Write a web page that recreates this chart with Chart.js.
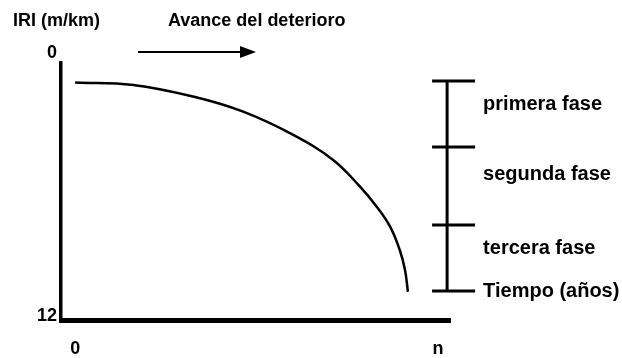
<!DOCTYPE html>
<html>
<head>
<meta charset="utf-8">
<script src="https://cdn.jsdelivr.net/npm/chart.js@4"></script>
<style>
html, body { margin: 0; padding: 0; background: #fff; }
</style>
</head>
<body>
<canvas id="chart" width="622" height="358"></canvas>
<script>
// deterioration curve: time (n = 10) against IRI (m/km)
const years = [0, 1.6, 3.25, 4.63, 6.01, 7.11, 7.85, 8.31, 8.68, 8.95, 9.09, 9.17];
const iri = [1.35, 1.46, 1.99, 2.68, 3.74, 4.88, 6.1, 7.01, 7.92, 9.01, 9.9, 10.89];
const xTicks = [0, 10];
const xTickLabels = ["0", "n"];
const yTicks = [0, 12];
// phase limits on the IRI scale
const phaseLimits = [1.28, 4.29, 7.85, 10.86];
const phaseLabels = ["primera fase", "segunda fase", "tercera fase"];
const timeLabel = "Tiempo (años)";
const yTitle = "IRI (m/km)";
const arrowLabel = "Avance del deterioro";

const FONT = "'Liberation Sans', Arial, sans-serif";

const notes = {
    id: "notes",
    afterDraw(chart) {
        const ctx = chart.ctx;
        const xs = chart.scales.x;
        const ys = chart.scales.y;
        ctx.save();
        ctx.fillStyle = "#000";
        ctx.strokeStyle = "#000";
        ctx.textBaseline = "middle";
        ctx.textAlign = "left";
        ctx.font = "bold 18px " + FONT;
        ctx.fillText(yTitle, 13, 21);
        ctx.fillText(arrowLabel, 168, 21);

        // arrow
        ctx.lineWidth = 2;
        ctx.beginPath();
        ctx.moveTo(138, 52);
        ctx.lineTo(242, 52);
        ctx.stroke();
        ctx.beginPath();
        ctx.moveTo(256, 52);
        ctx.lineTo(240, 46);
        ctx.lineTo(240, 58);
        ctx.closePath();
        ctx.fill();

        // phase bar
        const bx = xs.getPixelForValue(10.25);
        const py = phaseLimits.map(v => ys.getPixelForValue(v));
        ctx.lineWidth = 3;
        ctx.beginPath();
        ctx.moveTo(bx, py[0]);
        ctx.lineTo(bx, py[py.length - 1]);
        py.forEach(p => {
            ctx.moveTo(bx - 15, p);
            ctx.lineTo(bx + 28, p);
        });
        ctx.stroke();

        ctx.font = "bold 20px " + FONT;
        phaseLabels.forEach((t, i) => {
            ctx.fillText(t, bx + 36, py[i] + 0.35 * (py[i + 1] - py[i]));
        });
        ctx.fillText(timeLabel, bx + 36, py[py.length - 1]);
        ctx.restore();
    }
};

new Chart(document.getElementById("chart"), {
    type: "scatter",
    data: {
        datasets: [{
            data: years.map((x, i) => ({ x: x, y: iri[i] })),
            showLine: true,
            borderColor: "#000",
            borderWidth: 2.5,
            pointRadius: 0,
            tension: 0.4,
            fill: false
        }]
    },
    options: {
        responsive: false,
        animation: false,
        layout: { padding: { top: 63, right: 172, left: 0, bottom: 0 } },
        plugins: {
            legend: { display: false },
            tooltip: { enabled: false }
        },
        scales: {
            x: {
                type: "linear",
                min: -0.39,
                max: 10.33,
                grid: { display: false, drawTicks: false },
                border: { display: true, color: "#000", width: 5 },
                afterBuildTicks: s => { s.ticks = xTicks.map(v => ({ value: v })); },
                afterFit: s => { s.height = 38; },
                ticks: {
                    color: "#000",
                    font: { size: 18, weight: "bold", family: FONT },
                    padding: 18,
                    maxRotation: 0,
                    autoSkip: false,
                    callback: (v, i) => xTickLabels[i]
                }
            },
            y: {
                type: "linear",
                reverse: true,
                min: 0.46,
                max: 12.18,
                grid: { display: false, drawTicks: false },
                border: { display: true, color: "#000", width: 3.5 },
                afterBuildTicks: s => { s.ticks = yTicks.map(v => ({ value: v })); },
                afterFit: s => { s.width = 61; },
                ticks: {
                    color: "#000",
                    font: { size: 18, weight: "bold", family: FONT },
                    padding: 4,
                    autoSkip: false,
                    callback: v => String(v)
                }
            }
        }
    },
    plugins: [notes]
});
</script>
</body>
</html>
